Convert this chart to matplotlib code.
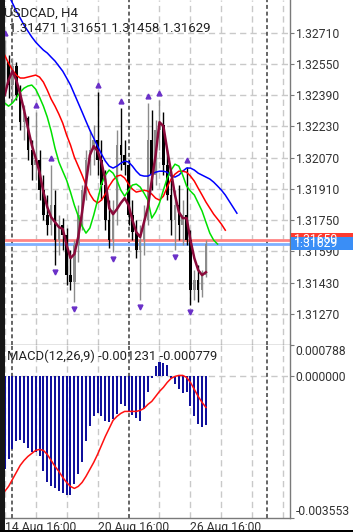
import matplotlib
matplotlib.use("Agg")
import matplotlib.pyplot as plt
from matplotlib.patches import Rectangle
import matplotlib.transforms as mtransforms
import numpy as np

plt.rcParams['font.family'] = ['Roboto', 'DejaVu Sans']

# ---------------- data ----------------
symbol_title = "USDCAD, H4"
ohlc_header = "1.31471 1.31651 1.31458 1.31629"
macd_title = "MACD(12,26,9) -0.001231 -0.000779"

opens = [1.32426, 1.32560, 1.32442, 1.32539, 1.32391, 1.32252, 1.32273, 1.32109, 1.32032, 1.32058,
         1.31904, 1.31776, 1.31725, 1.31827, 1.31648, 1.31725, 1.31674, 1.31469, 1.31433, 1.31623,
         1.31776, 1.31904, 1.32058, 1.32109, 1.32160, 1.32058, 1.31930, 1.31751, 1.31648, 1.31802,
         1.32135, 1.32083, 1.32032, 1.31776, 1.31689, 1.31597, 1.31648, 1.31751, 1.32160, 1.31981,
         1.32211, 1.32237, 1.32032, 1.31879, 1.31751, 1.31827, 1.31725, 1.31776, 1.31648, 1.31392,
         1.31443, 1.31392, 1.31471]
highs = [1.32672, 1.32595, 1.32580, 1.32560, 1.32442, 1.32339, 1.32283, 1.32160, 1.32304, 1.32109,
         1.31981, 1.31879, 1.32032, 1.31904, 1.31776, 1.31761, 1.31710, 1.31597, 1.31648, 1.31827,
         1.31930, 1.32109, 1.32211, 1.32237, 1.32406, 1.32160, 1.32007, 1.31853, 1.31853, 1.32211,
         1.32324, 1.32160, 1.32058, 1.31853, 1.31751, 1.31725, 1.31827, 1.32350, 1.32314, 1.32263,
         1.32365, 1.32304, 1.32109, 1.31955, 1.31904, 1.31930, 1.31853, 1.32022, 1.31699, 1.31495,
         1.31520, 1.31495, 1.31651]
lows = [1.32385, 1.32375, 1.32355, 1.32365, 1.32211, 1.32160, 1.32058, 1.31955, 1.31955, 1.31853,
        1.31751, 1.31674, 1.31674, 1.31520, 1.31571, 1.31597, 1.31418, 1.31392, 1.31331, 1.31536,
        1.31699, 1.31853, 1.31981, 1.32032, 1.31981, 1.31853, 1.31699, 1.31607, 1.31587, 1.31725,
        1.32007, 1.31981, 1.31725, 1.31648, 1.31556, 1.31341, 1.31571, 1.31725, 1.31904, 1.31930,
        1.32109, 1.31981, 1.31853, 1.31674, 1.31597, 1.31648, 1.31623, 1.31623, 1.31315, 1.31341,
        1.31331, 1.31356, 1.31458]
closes = [1.32560, 1.32442, 1.32539, 1.32391, 1.32252, 1.32304, 1.32109, 1.32032, 1.32058, 1.31904,
          1.31776, 1.31725, 1.31827, 1.31648, 1.31725, 1.31674, 1.31469, 1.31433, 1.31623, 1.31776,
          1.31904, 1.32058, 1.32109, 1.32160, 1.32058, 1.31930, 1.31751, 1.31648, 1.31802, 1.32135,
          1.32083, 1.32032, 1.31776, 1.31689, 1.31597, 1.31648, 1.31751, 1.32160, 1.31981, 1.32211,
          1.32237, 1.32032, 1.31879, 1.31751, 1.31827, 1.31725, 1.31776, 1.31648, 1.31392, 1.31443,
          1.31392, 1.31469, 1.31629]

# Alligator lines (shifted forward past the last bar)
jaw_blue = [1.32949, 1.32903, 1.32862, 1.32821, 1.32785, 1.32749, 1.32718, 1.32688, 1.32662, 1.32641,
            1.32621, 1.32606, 1.32585, 1.32565, 1.32539, 1.32513, 1.32478, 1.32442, 1.32396, 1.32350,
            1.32304, 1.32257, 1.32211, 1.32170, 1.32129, 1.32089, 1.32053, 1.32027, 1.32017, 1.32027,
            1.32042, 1.32053, 1.32048, 1.32027, 1.32001, 1.31981, 1.31976, 1.31976, 1.31986, 1.31996,
            1.32001, 1.32001, 1.31996, 1.31976, 1.31971, 1.31981, 1.32001, 1.32017, 1.32017, 1.32007,
            1.31991, 1.31981, 1.31971, 1.31961, 1.31945, 1.31925, 1.31904, 1.31879, 1.31848, 1.31817,
            1.31786]
teeth_red = [1.32595, 1.32554, 1.32519, 1.32493, 1.32478, 1.32478, 1.32483, 1.32488, 1.32493, 1.32483,
             1.32457, 1.32416, 1.32370, 1.32334, 1.32293, 1.32247, 1.32186, 1.32135, 1.32073, 1.32027,
             1.31981, 1.31930, 1.31884, 1.31853, 1.31838, 1.31853, 1.31884, 1.31925, 1.31955, 1.31976,
             1.31981, 1.31966, 1.31935, 1.31909, 1.31894, 1.31899, 1.31904, 1.31899, 1.31884, 1.31863,
             1.31853, 1.31873, 1.31920, 1.31961, 1.31986, 1.32001, 1.32001, 1.31996, 1.31976, 1.31950,
             1.31914, 1.31879, 1.31843, 1.31812, 1.31781, 1.31756, 1.31730, 1.31699]
lips_green = [1.32350, 1.32334, 1.32350, 1.32375, 1.32406, 1.32426, 1.32437, 1.32442, 1.32421, 1.32380,
              1.32334, 1.32278, 1.32206, 1.32119, 1.32048, 1.32001, 1.31955, 1.31894, 1.31827, 1.31771,
              1.31720, 1.31684, 1.31710, 1.31776, 1.31853, 1.31935, 1.31981, 1.32007, 1.31991, 1.31955,
              1.31904, 1.31873, 1.31904, 1.31930, 1.31935, 1.31920, 1.31889, 1.31853, 1.31761, 1.31792,
              1.31838, 1.31904, 1.31966, 1.32007, 1.32037, 1.32027, 1.31981, 1.31925, 1.31899, 1.31879,
              1.31838, 1.31797, 1.31740, 1.31684, 1.31648, 1.31628]
fast_ma = [1.32391, 1.32467, 1.32513, 1.32467, 1.32396, 1.32314, 1.32222, 1.32135, 1.32068, 1.31996,
           1.31894, 1.31817, 1.31766, 1.31740, 1.31715, 1.31705, 1.31623, 1.31556, 1.31577, 1.31664,
           1.31792, 1.31940, 1.32083, 1.32129, 1.32104, 1.32048, 1.31955, 1.31812, 1.31781, 1.31807,
           1.31838, 1.31863, 1.31827, 1.31751, 1.31689, 1.31664, 1.31740, 1.31817, 1.31955, 1.32083,
           1.32252, 1.32232, 1.32109, 1.31996, 1.31879, 1.31792, 1.31761, 1.31761, 1.31648, 1.31556,
           1.31495, 1.31469, 1.31484]

fractal_up_bars = [0, 8, 12, 24, 30, 37, 40, 47]
fractal_down_bars = [13, 18, 28, 35, 44, 48]

macd_hist = [-0.002334, -0.002083, -0.001832, -0.001631, -0.001606, -0.001681, -0.001807, -0.001907,
             -0.001907, -0.002008, -0.002384, -0.002660, -0.002760, -0.002811, -0.002886, -0.002936,
             -0.002986, -0.002986, -0.002710, -0.002459, -0.002158, -0.001631, -0.001255, -0.001004,
             -0.000928, -0.001004, -0.001129, -0.001154, -0.001079, -0.000954, -0.000703, -0.000753,
             -0.000878, -0.000979, -0.001054, -0.001129, -0.000828, -0.000402, -0.000050, 0.000251,
             0.000351, 0.000326, 0.000276, -0.000030, -0.000201, -0.000326, -0.000427, -0.000402,
             -0.000753, -0.001004, -0.001205, -0.001280, -0.001231]
macd_signal = [-0.002886, -0.002760, -0.002585, -0.002409, -0.002233, -0.002108, -0.002008, -0.001932,
               -0.001857, -0.001832, -0.001857, -0.001957, -0.002108, -0.002258, -0.002384, -0.002535,
               -0.002660, -0.002760, -0.002811, -0.002760, -0.002660, -0.002509, -0.002334, -0.002158,
               -0.001957, -0.001732, -0.001506, -0.001305, -0.001104, -0.001004, -0.000928, -0.000878,
               -0.000878, -0.000878, -0.000878, -0.000853, -0.000803, -0.000703, -0.000627, -0.000502,
               -0.000376, -0.000276, -0.000151, -0.000050, 0.000000, 0.000025, 0.000025, -0.000025,
               -0.000151, -0.000326, -0.000502, -0.000652, -0.000779]

price_ticks = [1.32710, 1.32550, 1.32390, 1.32230, 1.32070, 1.31910, 1.31750, 1.31590, 1.31430, 1.31270]
macd_ticks = [0.000788, 0.0, -0.003553]
macd_tick_labels = ["0.000788", "0.000000", "-0.003553"]
date_bars = [0, 24, 48]
date_labels = ["14 Aug 16:00", "20 Aug 16:00", "26 Aug 16:00"]
ask_price = 1.31650
bid_price = 1.31629
price_range = (1.311113, 1.328774)
macd_range = (-0.003553, 0.000788)

# ---------------- layout ----------------
W, H = 353, 532
fig = plt.figure(figsize=(W / 100, H / 100), dpi=100)
fig.patch.set_facecolor('white')


def rect(x0, y0, x1, y1):
    return [x0 / W, 1 - y1 / H, (x1 - x0) / W, (y1 - y0) / H]


ax = fig.add_axes(rect(0, 0, 290, 345))
axm = fig.add_axes(rect(0, 345, 290, 518))

BAR_PX = 3.87
X0_PX = 4.7
xlim = (-X0_PX / BAR_PX, (290 - X0_PX) / BAR_PX)
for a in (ax, axm):
    a.set_xlim(*xlim)
    a.set_facecolor('white')
ax.set_ylim(*price_range)
axm.set_ylim(*macd_range)

GRID = '#c9c9c9'
grid_bars = np.arange(0, 74, 8)
sep_bars = [2, 32, 67.7]
for a in (ax, axm):
    for g in grid_bars:
        if g == 32:
            continue
        a.axvline(g, color=GRID, lw=1.0, dashes=(4.5, 3), zorder=0)
    for s in sep_bars:
        a.axvline(s, color='#3c3c3c', lw=1.1, dashes=(2.6, 1.8), zorder=0.5)
for p in price_ticks:
    ax.axhline(p, color=GRID, lw=1.0, dashes=(4.5, 3), zorder=0)
axm.axhline(0.0, color=GRID, lw=1.0, dashes=(4.5, 3), zorder=0)

# ask / bid lines
ax.axhline(ask_price, color='#ff8484', lw=2.0, zorder=1.5)
ax.axhline(bid_price, color='#7fb0ff', lw=2.0, zorder=1.5)

# candles
o = np.array(opens); h = np.array(highs); l = np.array(lows); c = np.array(closes)
idx = np.arange(len(o))
bull = c >= o
cols = np.where(bull, '#8c8c8c', '#000000')
ax.vlines(idx, l, h, colors=cols, lw=1.0, zorder=2)
body = np.maximum(np.abs(c - o), 0.00003)
ax.bar(idx, body, bottom=np.minimum(o, c), width=0.66, color=cols, zorder=2.1)

# alligator + fast MA
ax.plot(np.arange(len(jaw_blue)), jaw_blue, color='#0000ff', lw=1.1, zorder=3)
ax.plot(np.arange(len(teeth_red)), teeth_red, color='#ff0000', lw=1.1, zorder=3)
ax.plot(np.arange(len(lips_green)), lips_green, color='#00e000', lw=1.1, zorder=3)
ax.plot(np.arange(len(fast_ma)), fast_ma, color='#8a0a3a', lw=1.8, zorder=3.5)

# fractals
up_tr = mtransforms.offset_copy(ax.transData, fig=fig, x=0, y=7, units='dots')
dn_tr = mtransforms.offset_copy(ax.transData, fig=fig, x=0, y=-7, units='dots')
ax.plot(fractal_up_bars, h[fractal_up_bars], ls='none', marker='^', ms=3.5,
        color='#6a30c8', transform=up_tr, zorder=4)
ax.plot(fractal_down_bars, l[fractal_down_bars], ls='none', marker='v', ms=3.5,
        color='#6a30c8', transform=dn_tr, zorder=4)

# MACD
midx = np.arange(len(macd_hist))
axm.bar(midx, macd_hist, width=0.52, color='#10109c', zorder=2)
axm.plot(midx, macd_signal, color='#ff1010', lw=1.1, zorder=3)

# axes styling
SP = '#7a7a7a'
for a in (ax, axm):
    for s in ('top', 'left'):
        a.spines[s].set_visible(False)
    for s in ('right', 'bottom'):
        a.spines[s].set_color(SP)
        a.spines[s].set_linewidth(1.0)
    a.yaxis.tick_right()
    a.tick_params(axis='y', direction='out', length=3, width=0.8, color=SP, pad=1,
                  labelsize=8.7, labelcolor='#333333')

ax.set_xticks([])
ax.set_yticks(price_ticks)
ax.set_yticklabels([f"{p:.5f}" for p in price_ticks])

axm.set_yticks(macd_ticks)
axm.set_yticklabels(macd_tick_labels)
tl = axm.get_yticklabels()
tl[0].set_va('top')
tl[2].set_va('bottom')
axm.set_xticks(date_bars)
axm.set_xticklabels(date_labels, ha='left')
axm.tick_params(axis='x', length=0, pad=2.5, labelsize=8.7, labelcolor='#333333')

# price labels for ask / bid
for price, colr in ((ask_price, '#ff3b30'), (bid_price, '#3a8ef6')):
    yd = ax.transData.transform((0, price))[1]
    fig.add_artist(Rectangle((291, yd - 6.5), 62, 13, transform=mtransforms.IdentityTransform(),
                             facecolor=colr, edgecolor='none', zorder=5))
    fig.text(293.5 / W, yd / H, f"{price:.5f}", color='white', fontsize=8.7,
             va='center', ha='left', zorder=6)

# header texts
fig.text(4 / W, 1 - 17 / H, symbol_title, fontsize=9.5, color='#222222', va='baseline', zorder=6)
fig.text(9 / W, 1 - 32 / H, ohlc_header, fontsize=9.5, color='#222222', va='baseline', zorder=6)
fig.text(7 / W, 1 - 360 / H, macd_title, fontsize=9.4, color='#222222', va='baseline', zorder=6)

# dark frame strips
fig.add_artist(Rectangle((0, 0), 5 / W, 1, transform=fig.transFigure, facecolor='#161616',
                         edgecolor='none', zorder=20))
fig.add_artist(Rectangle((0, 0), 1, 2.5 / H, transform=fig.transFigure, facecolor='#000000',
                         edgecolor='none', zorder=20))

fig.savefig('out.png', dpi=100)
